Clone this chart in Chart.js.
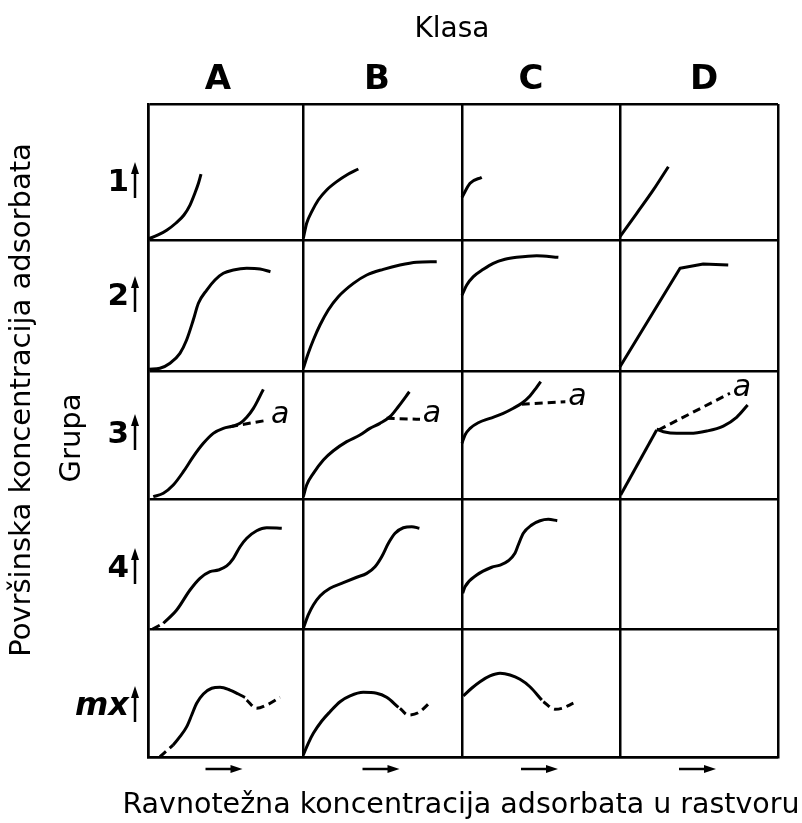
<!DOCTYPE html>
<html>
<head>
<meta charset="utf-8">
<title>Klasifikacija izotermi adsorpcije</title>
<script src="https://cdn.jsdelivr.net/npm/chart.js@4/dist/chart.umd.min.js"></script>
<style>
  html, body { margin: 0; padding: 0; background: #fff; }
  canvas { display: block; }
</style>
</head>
<body>
<canvas id="chart" width="802" height="823"></canvas>
<script>
// Klase (kolone) i grupe (redovi)
const classes = ['A', 'B', 'C', 'D'];
const groups = ['1', '2', '3', '4', 'mx'];

// Oblici izotermi, [c, q] unutar jedne celije (0..1)
const g1A = [[0, 0.007], [0.065, 0.037], [0.123, 0.074], [0.181, 0.125], [0.232, 0.184], [0.271, 0.257], [0.303, 0.346], [0.326, 0.419], [0.342, 0.485]];
const g1B = [[0.002, 0.012], [0.023, 0.123], [0.055, 0.208], [0.096, 0.294], [0.149, 0.368], [0.212, 0.429], [0.275, 0.478], [0.348, 0.522]];
const g1C = [[0, 0.314], [0.051, 0.417], [0.125, 0.461]];
const g1D = [[0, 0.024], [0.106, 0.196], [0.211, 0.368], [0.306, 0.539]];

const g2A = [[0.008, 0.013], [0.077, 0.021], [0.142, 0.059], [0.206, 0.135], [0.249, 0.237], [0.292, 0.389], [0.325, 0.517], [0.379, 0.618], [0.432, 0.695], [0.486, 0.746], [0.551, 0.771], [0.637, 0.784], [0.723, 0.779], [0.79, 0.758]];
const g2B = [[0.002, 0.021], [0.033, 0.135], [0.065, 0.237], [0.107, 0.351], [0.159, 0.466], [0.222, 0.567], [0.317, 0.669], [0.401, 0.733], [0.505, 0.776], [0.61, 0.809], [0.715, 0.83], [0.841, 0.834]];
const g2C = [[0, 0.58], [0.03, 0.656], [0.072, 0.72], [0.135, 0.776], [0.198, 0.822], [0.272, 0.853], [0.346, 0.868], [0.473, 0.88], [0.61, 0.868]];
const g2D = [[0, 0.033], [0.38, 0.784], [0.527, 0.817], [0.685, 0.809]];

const g3A = [[0.034, 0.018], [0.099, 0.045], [0.163, 0.109], [0.228, 0.213], [0.292, 0.331], [0.357, 0.435], [0.421, 0.513], [0.486, 0.552], [0.55, 0.57], [0.594, 0.591], [0.637, 0.638], [0.68, 0.708], [0.712, 0.779], [0.744, 0.857]];
const g3Aa = [[0.529, 0.565], [0.776, 0.617]];
const g3B = [[0.002, 0.018], [0.023, 0.109], [0.065, 0.2], [0.128, 0.305], [0.191, 0.377], [0.275, 0.448], [0.358, 0.5], [0.421, 0.552], [0.484, 0.591], [0.547, 0.643], [0.599, 0.721], [0.669, 0.838]];
const g3Ba = [[0.526, 0.63], [0.736, 0.623]];
const g3C = [[0, 0.435], [0.019, 0.5], [0.051, 0.552], [0.103, 0.596], [0.177, 0.63], [0.261, 0.669], [0.325, 0.709], [0.378, 0.748], [0.43, 0.805], [0.468, 0.865], [0.498, 0.917]];
const g3Ca = [[0.378, 0.74], [0.654, 0.76]];
const g3D = [[0.004, 0.031], [0.232, 0.539]];
const g3Db = [[0.232, 0.545], [0.275, 0.526], [0.359, 0.513], [0.443, 0.513], [0.549, 0.531], [0.654, 0.57], [0.738, 0.638], [0.808, 0.734]];
const g3Da = [[0.243, 0.539], [0.696, 0.826]];

const g4Ad = [[0.03, 0.0], [0.099, 0.044]];
const g4A = [[0.099, 0.044], [0.185, 0.146], [0.271, 0.3], [0.335, 0.39], [0.4, 0.441], [0.454, 0.454], [0.508, 0.485], [0.551, 0.544], [0.594, 0.633], [0.637, 0.698], [0.701, 0.756], [0.766, 0.779], [0.863, 0.775]];
const g4B = [[0.002, 0.005], [0.033, 0.108], [0.065, 0.185], [0.107, 0.254], [0.17, 0.313], [0.254, 0.356], [0.338, 0.398], [0.401, 0.428], [0.453, 0.479], [0.495, 0.556], [0.537, 0.659], [0.579, 0.736], [0.631, 0.779], [0.684, 0.787], [0.732, 0.775]];
const g4C = [[0.004, 0.275], [0.019, 0.325], [0.093, 0.415], [0.188, 0.475], [0.241, 0.492], [0.293, 0.525], [0.335, 0.582], [0.356, 0.646], [0.388, 0.736], [0.441, 0.8], [0.494, 0.833], [0.546, 0.844], [0.603, 0.833]];

const g5Ad = [[0.077, 0.002], [0.163, 0.094]];
const g5A = [[0.163, 0.094], [0.206, 0.159], [0.25, 0.237], [0.282, 0.328], [0.314, 0.42], [0.357, 0.492], [0.411, 0.537], [0.465, 0.545], [0.529, 0.523], [0.583, 0.492], [0.626, 0.466]];
const g5Aa = [[0.637, 0.445], [0.701, 0.38], [0.766, 0.406], [0.852, 0.466]];
const g5B = [[0.002, 0.016], [0.033, 0.107], [0.065, 0.185], [0.118, 0.281], [0.17, 0.354], [0.233, 0.432], [0.296, 0.477], [0.379, 0.505], [0.463, 0.498], [0.526, 0.466], [0.6, 0.388]];
const g5Ba = [[0.61, 0.38], [0.662, 0.328], [0.725, 0.346], [0.809, 0.438]];
const g5C = [[0.008, 0.477], [0.061, 0.537], [0.114, 0.588], [0.177, 0.633], [0.241, 0.654], [0.304, 0.641], [0.367, 0.607], [0.43, 0.549], [0.505, 0.445]];
const g5Ca = [[0.515, 0.432], [0.589, 0.373], [0.631, 0.38], [0.705, 0.42]];

// Sve krive: klasa, grupa, tacke, isprekidana?, prava?
const isotherms = [
    { cls: 'A', grp: '1', pts: g1A },
    { cls: 'B', grp: '1', pts: g1B },
    { cls: 'C', grp: '1', pts: g1C },
    { cls: 'D', grp: '1', pts: g1D },
    { cls: 'A', grp: '2', pts: g2A },
    { cls: 'B', grp: '2', pts: g2B },
    { cls: 'C', grp: '2', pts: g2C },
    { cls: 'D', grp: '2', pts: g2D, straight: true },
    { cls: 'A', grp: '3', pts: g3A },
    { cls: 'A', grp: '3', pts: g3Aa, dashed: true, tag: 'a' },
    { cls: 'B', grp: '3', pts: g3B },
    { cls: 'B', grp: '3', pts: g3Ba, dashed: true, tag: 'a' },
    { cls: 'C', grp: '3', pts: g3C },
    { cls: 'C', grp: '3', pts: g3Ca, dashed: true, tag: 'a' },
    { cls: 'D', grp: '3', pts: g3D, straight: true },
    { cls: 'D', grp: '3', pts: g3Db },
    { cls: 'D', grp: '3', pts: g3Da, dashed: true, tag: 'a' },
    { cls: 'A', grp: '4', pts: g4Ad, dashed: true },
    { cls: 'A', grp: '4', pts: g4A },
    { cls: 'B', grp: '4', pts: g4B },
    { cls: 'C', grp: '4', pts: g4C },
    { cls: 'A', grp: 'mx', pts: g5Ad, dashed: true },
    { cls: 'A', grp: 'mx', pts: g5A },
    { cls: 'A', grp: 'mx', pts: g5Aa, dashed: true },
    { cls: 'B', grp: 'mx', pts: g5B },
    { cls: 'B', grp: 'mx', pts: g5Ba, dashed: true },
    { cls: 'C', grp: 'mx', pts: g5C },
    { cls: 'C', grp: 'mx', pts: g5Ca, dashed: true }
];

// Granice kolona i redova na osama (u jedinicama skale)
const COL_EDGES = [0, 155, 314, 472, 630];
const ROW_EDGES = [653, 517, 386, 258, 128, 0];

function toScale(cls, grp, p) {
    const c = classes.indexOf(cls);
    const r = groups.indexOf(grp);
    const x0 = COL_EDGES[c], x1 = COL_EDGES[c + 1];
    const yb = ROW_EDGES[r + 1], yt = ROW_EDGES[r];
    return { x: x0 + p[0] * (x1 - x0), y: yb + p[1] * (yt - yb) };
}

const datasets = isotherms.map(iso => ({
    data: iso.pts.map(p => toScale(iso.cls, iso.grp, p)),
    showLine: true,
    borderColor: '#000',
    borderWidth: 3,
    borderDash: iso.dashed ? [8, 5] : [],
    borderCapStyle: 'butt',
    borderJoinStyle: 'round',
    cubicInterpolationMode: iso.straight ? 'default' : 'monotone',
    tension: iso.straight ? 0 : 0.4,
    pointRadius: 0,
    tag: iso.tag || null
}));

function arrowUp(ctx, x, yBottom, yTop) {
    ctx.beginPath();
    ctx.moveTo(x, yBottom);
    ctx.lineTo(x, yTop + 8);
    ctx.stroke();
    ctx.beginPath();
    ctx.moveTo(x, yTop);
    ctx.lineTo(x - 4, yTop + 12);
    ctx.lineTo(x + 4, yTop + 12);
    ctx.closePath();
    ctx.fill();
}

function arrowRight(ctx, xLeft, xRight, y) {
    ctx.beginPath();
    ctx.moveTo(xLeft, y);
    ctx.lineTo(xRight - 8, y);
    ctx.stroke();
    ctx.beginPath();
    ctx.moveTo(xRight, y);
    ctx.lineTo(xRight - 12, y - 4);
    ctx.lineTo(xRight - 12, y + 4);
    ctx.closePath();
    ctx.fill();
}

// Natpisi oko mreze
const COL_LABEL_X = [218, 377, 531, 704];
const ROW_LABEL_Y = [183, 297, 435, 569, 707];

const labelsPlugin = {
    id: 'labels',
    afterDraw(chart) {
        const ctx = chart.ctx;
        const xs = chart.scales.x;
        ctx.save();
        ctx.fillStyle = '#000';
        ctx.strokeStyle = '#000';
        ctx.lineWidth = 2.5;
        ctx.textAlign = 'center';
        ctx.textBaseline = 'middle';

        ctx.font = '28px "DejaVu Sans"';
        ctx.fillText('Klasa', 452, 30);
        ctx.font = '28.5px "DejaVu Sans"';
        ctx.fillText('Ravnotežna koncentracija adsorbata u rastvoru', 461, 806);

        ctx.font = 'bold 34px "DejaVu Sans"';
        classes.forEach((c, i) => ctx.fillText(c, COL_LABEL_X[i], 80));

        groups.forEach((g, i) => {
            const y = ROW_LABEL_Y[i];
            ctx.font = g === 'mx' ? 'italic bold 32px "DejaVu Sans"' : 'bold 31px "DejaVu Sans"';
            ctx.textAlign = 'right';
            ctx.fillText(g, 129, y);
            arrowUp(ctx, 135, y + 15, y - 21);
        });

        // strelice ispod kolona
        classes.forEach((c, i) => {
            const xm = xs.getPixelForValue((COL_EDGES[i] + COL_EDGES[i + 1]) / 2);
            arrowRight(ctx, xm - 20, xm + 17, 769);
        });

        ctx.textAlign = 'center';
        ctx.font = '29px "DejaVu Sans"';
        ctx.save();
        ctx.translate(22, 400);
        ctx.rotate(-Math.PI / 2);
        ctx.fillText('Površinska koncentracija adsorbata', 0, 0);
        ctx.restore();
        ctx.save();
        ctx.translate(72, 438);
        ctx.rotate(-Math.PI / 2);
        ctx.fillText('Grupa', 0, 0);
        ctx.restore();

        // oznaka "a" na kraju isprekidanih grana
        ctx.font = 'italic 30px "DejaVu Sans"';
        chart.data.datasets.forEach((ds, i) => {
            if (ds.tag !== 'a') return;
            const pts = chart.getDatasetMeta(i).data;
            const last = pts[pts.length - 1];
            ctx.fillText('a', last.x + 12, last.y - 5);
        });
        ctx.restore();
    }
};

const ctx = document.getElementById('chart').getContext('2d');
new Chart(ctx, {
    type: 'scatter',
    data: { datasets },
    options: {
        responsive: false,
        animation: false,
        layout: { padding: { left: 148, right: 24, top: 104, bottom: 66 } },
        plugins: { legend: { display: false }, tooltip: { enabled: false } },
        scales: {
            x: {
                type: 'linear', min: 0, max: COL_EDGES[COL_EDGES.length - 1],
                afterBuildTicks: s => { s.ticks = COL_EDGES.map(v => ({ value: v })); },
                ticks: { display: false },
                grid: { color: '#000', lineWidth: 2.5, drawTicks: false },
                border: { display: true, color: '#000', width: 2.5 }
            },
            y: {
                type: 'linear', min: 0, max: ROW_EDGES[0],
                afterBuildTicks: s => { s.ticks = ROW_EDGES.map(v => ({ value: v })); },
                ticks: { display: false },
                grid: { color: '#000', lineWidth: 2.5, drawTicks: false },
                border: { display: true, color: '#000', width: 2.5 }
            }
        }
    },
    plugins: [labelsPlugin]
});
</script>
</body>
</html>
